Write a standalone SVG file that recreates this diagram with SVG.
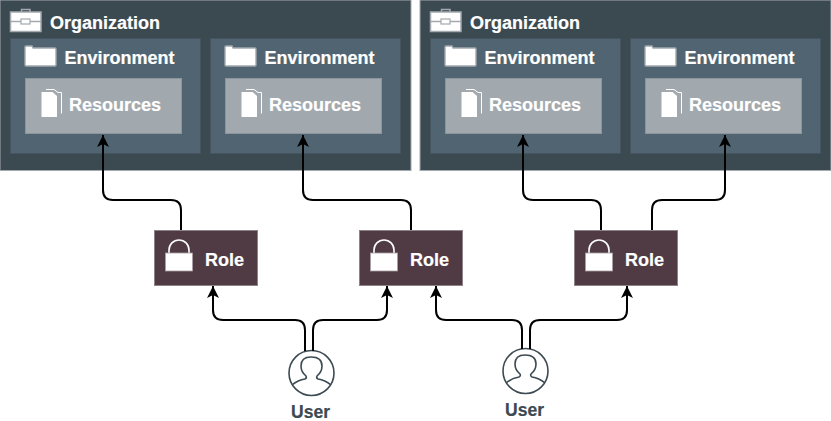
<svg xmlns="http://www.w3.org/2000/svg" width="831" height="421" viewBox="0 0 831 421">
<style>
text{font-family:"Liberation Sans",Arial,sans-serif;font-weight:700;fill:#fff;stroke:#fff;stroke-width:.2px}
.org{fill:#3b4950;stroke:#a3a9ae;stroke-width:1}
.env{fill:#506472;stroke:#46545f;stroke-width:1}
.res{fill:#a1a8ae;stroke:#8c959c;stroke-width:1}
.role{fill:#503b45;stroke:#8f8389;stroke-width:1}
.t{font-size:18px}
.u{font-size:17.500px;fill:#3c4a52;stroke:#3c4a52}
.c{fill:none;stroke:#000;stroke-width:2;marker-end:url(#a)}
</style>
<defs>
<marker id="a" markerUnits="userSpaceOnUse" markerWidth="14" markerHeight="14" refX="12" refY="6" orient="auto" viewBox="0 0 14 12"><path d="M0 0 L12 6 L0 12 L3 6Z" fill="#000"/></marker>
<g id="brief"><path d="M21.500 12v-2.500h8.500V12" fill="none" stroke="#a3a9ae" stroke-width="1.500"/><rect x="10.500" y="12" width="30.500" height="19.500" fill="#fff" stroke="#a3a9ae" stroke-width="1.500"/><path d="M10 21.500h31" stroke="#a3a9ae" stroke-width="1.500"/><rect x="21" y="19" width="9" height="5" fill="#fff" stroke="#a3a9ae" stroke-width="1.200"/></g>
<g id="folder"><path d="M25 50v-3q0-1 1-1h6l1 2h22q1 0 1 1v16q0 1-1 1h-29q-1 0-1-1z" fill="#fff" stroke="#a1a8ae" stroke-width="1.400"/></g>
<g id="doc"><path d="M46 89.500h8l4 3 3.500 0v21" fill="none" stroke="#fff" stroke-width="1"/><path d="M41.500 92h11l4.500 4v21h-15.500z" fill="#fff"/></g>
<g id="lock"><path d="M3.500 0V-3a10 10 0 0 1 20 0V0" fill="none" stroke="#fff" stroke-width="1.600"/><rect x="0" y="0" width="27" height="18" fill="#fff" stroke="#a89ea3" stroke-width=".8"/></g>
<g id="person"><circle r="22.500" fill="#fff" stroke="#3c4a52" stroke-width="1.600"/><path d="M-19.500 12q6-5 13-6 2-1 1-3-5-4-5-10 0-9 10-9 11 0 11 9 0 6-5 10-1 2 1 3 7 1 13 6" fill="none" stroke="#3c4a52" stroke-width="1.600"/></g>
</defs>

<g id="org1"><rect class="org" x="0" y="0" width="411" height="170.500"/><use href="#brief"/><text class="t" x="50" y="28.500">Organization</text></g>
<g id="env1"><rect class="env" x="10.500" y="38.500" width="190" height="115"/><use href="#folder"/><text class="t" x="64.500" y="63.500">Environment</text></g>
<g id="res1"><rect class="res" x="25.500" y="78.500" width="156" height="55"/><use href="#doc"/><text class="t" x="69" y="111">Resources</text></g>
<g id="env2"><rect class="env" x="210.500" y="38.500" width="190" height="115"/><use href="#folder" x="200"/><text class="t" x="264.500" y="63.500">Environment</text></g>
<g id="res2"><rect class="res" x="225.500" y="78.500" width="156" height="55"/><use href="#doc" x="200"/><text class="t" x="269" y="111">Resources</text></g>

<g id="org2"><rect class="org" x="420" y="0" width="411" height="170.500"/><use href="#brief" x="420"/><text class="t" x="470" y="28.500">Organization</text></g>
<g id="env3"><rect class="env" x="430.500" y="38.500" width="190" height="115"/><use href="#folder" x="420"/><text class="t" x="484.500" y="63.500">Environment</text></g>
<g id="res3"><rect class="res" x="445.500" y="78.500" width="156" height="55"/><use href="#doc" x="420"/><text class="t" x="489" y="111">Resources</text></g>
<g id="env4"><rect class="env" x="630.500" y="38.500" width="190" height="115"/><use href="#folder" x="620"/><text class="t" x="684.500" y="63.500">Environment</text></g>
<g id="res4"><rect class="res" x="645.500" y="78.500" width="156" height="55"/><use href="#doc" x="620"/><text class="t" x="689" y="111">Resources</text></g>

<g id="role1"><rect class="role" x="154.500" y="230.500" width="103" height="55"/><use href="#lock" x="165.500" y="253"/><text class="t" x="205" y="266">Role</text></g>
<g id="role2"><rect class="role" x="359.500" y="230.500" width="103" height="55"/><use href="#lock" x="370.500" y="253"/><text class="t" x="410" y="266">Role</text></g>
<g id="role3"><rect class="role" x="574.500" y="230.500" width="103" height="55"/><use href="#lock" x="585.500" y="253"/><text class="t" x="625" y="266">Role</text></g>

<g id="user1"><use href="#person" x="311.500" y="373"/><text class="u" x="310.500" y="418" text-anchor="middle">User</text></g>
<g id="user2"><use href="#person" x="525.500" y="371"/><text class="u" x="524.500" y="416" text-anchor="middle">User</text></g>

<g id="connectors">
<path class="c" d="M181 230V210q0-10-10-10H113q-10 0-10-10V135"/>
<path class="c" d="M411 230V210q0-10-10-10H313q-10 0-10-10V135"/>
<path class="c" d="M601 230V210q0-10-10-10H533q-10 0-10-10V135"/>
<path class="c" d="M652 230V210q0-10 10-10H715q10 0 10-10V135"/>
<path class="c" d="M305 351V330q0-10-10-10H223q-10 0-10-10V286"/>
<path class="c" d="M313 351V330q0-10 10-10H377q10 0 10-10V286"/>
<path class="c" d="M522 349V330q0-10-10-10H446q-10 0-10-10V286"/>
<path class="c" d="M530 349V330q0-10 10-10H617q10 0 10-10V286"/>
</g>
</svg>
